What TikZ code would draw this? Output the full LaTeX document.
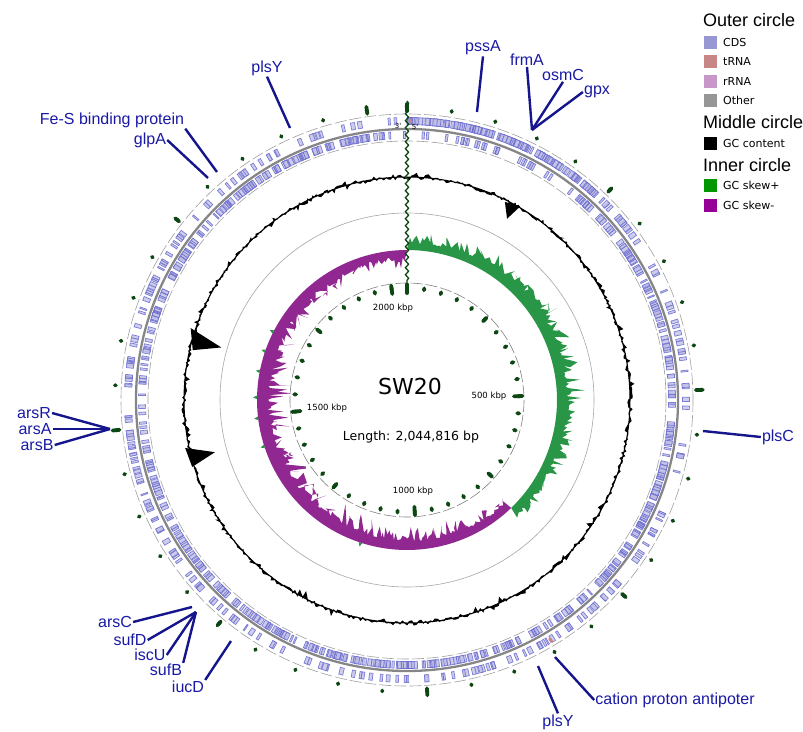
\documentclass[tikz,border=0pt]{standalone}
\usepackage{fontspec}
\setmainfont{Liberation Sans}
\newfontfamily\dejavu{DejaVu Sans}
\usetikzlibrary{decorations.pathmorphing}

\definecolor{cdscol}{RGB}{125,125,200}
\definecolor{trnacol}{RGB}{200,135,135}
\definecolor{rrnacol}{RGB}{200,150,200}
\definecolor{othercol}{RGB}{150,150,150}
\definecolor{skewpos}{RGB}{40,150,70}
\definecolor{skewneg}{RGB}{145,40,145}
\definecolor{legpos}{RGB}{0,150,0}
\definecolor{legneg}{RGB}{150,0,150}
\definecolor{tickgreen}{RGB}{12,70,18}
\definecolor{genecol}{RGB}{25,25,165}

\begin{document}
\begin{tikzpicture}[x=1pt, y=-1pt,
    gene/.style={text=genecol, font=\fontsize{16}{16}\selectfont, inner sep=1pt},
    lead/.style={draw=genecol!85!black, line width=2.4pt},
    ring/.style={draw=gray!75, line width=0.6pt, dash pattern=on 12pt off 3pt},
    cds/.style={draw=cdscol!85!blue, fill=cdscol!45, line width=0.7pt, opacity=0.85},
    tick/.style={draw=tickgreen, line cap=round, line width=3.8pt},
    kbp/.style={font=\dejavu\fontsize{8.5}{9}\selectfont, inner sep=0pt},
    legbox/.style={minimum size=13pt, inner sep=0pt},
    legtext/.style={font=\dejavu\fontsize{11}{11}\selectfont, anchor=west, inner sep=0pt},
    leghead/.style={font=\fontsize{18}{18}\selectfont, anchor=west, inner sep=0pt}
]

\useasboundingbox (0,0) rectangle (803,731);
\pgfmathsetseed{2044}

\begin{scope}[shift={(407,400)}]

% Outer circle: CDS on both strands
\draw[ring] (0,0) circle[radius=286];
\draw[ring] (0,0) circle[radius=259];
\foreach \i in {1,...,260}{
    \pgfmathsetmacro\ang{360*rnd-90}
    \pgfmathsetmacro\len{0.25+0.7*rnd}
    \draw[cds] (\ang:275.5) -- ({\ang+\len}:275.5) -- ({\ang+\len}:282.5) -- (\ang:282.5) -- cycle;
}
\foreach \i in {1,...,120}{
    \pgfmathsetmacro\ang{42*rnd-90}
    \pgfmathsetmacro\len{0.25+0.7*rnd}
    \draw[cds] (\ang:275.5) -- ({\ang+\len}:275.5) -- ({\ang+\len}:282.5) -- (\ang:282.5) -- cycle;
}
\foreach \i in {1,...,560}{
    \pgfmathsetmacro\ang{40+320*rnd-90}
    \pgfmathsetmacro\len{0.25+0.7*rnd}
    \draw[cds] (\ang:261.5) -- ({\ang+\len}:261.5) -- ({\ang+\len}:268.5) -- (\ang:268.5) -- cycle;
}
\foreach \i in {1,...,30}{
    \pgfmathsetmacro\ang{40*rnd-90}
    \draw[cds] (\ang:261.5) -- ({\ang+0.5}:261.5) -- ({\ang+0.5}:268.5) -- (\ang:268.5) -- cycle;
}
\draw[gray!95, line width=2.3pt] (0,0) circle[radius=271];
% tRNA marks
\draw[trnacol, line width=5pt] (58.8:280) -- (59.4:280);
\draw[trnacol, line width=4pt] (-89.6:279) -- (-89:279);

% Outer ticks
\foreach \k in {0,...,40}
    \draw[tick] ({\k*8.8027-90}:291.5) -- ({\k*8.8027-90}:292.5);
\foreach \k in {1,3,5,7}
    \draw[tick] ({\k*44.013-90}:289.5) -- ({\k*44.013-90}:294.5);
\foreach \k in {0,2,4,6,8}
    \draw[tick] ({\k*44.013-90}:289) -- ({\k*44.013-90}:296);

% Middle circle: GC content
\filldraw[black, line width=1pt, even odd rule] (-90:223)
    \foreach \a in {0.6,1.2,...,359.4}{ -- ({\a-90}:{223+2.2*rand+10*rand*rnd*rnd*rnd}) } -- cycle
    (0,0) circle[radius=223];
\fill[black] ({26.3-90}:221) -- ({28.9-90}:207) -- ({30.3-90}:224) -- cycle;
\fill[black] ({283.1-90}:220) -- ({285.8-90}:193) -- ({288.4-90}:228) -- cycle;
\fill[black] ({252.7-90}:225) -- ({254.8-90}:199) -- ({257.8-90}:227) -- cycle;
\draw[gray!70, line width=0.6pt] (0,0) circle[radius=187];

% Inner circle: GC skew
\fill[skewpos] (-90:150)
    \foreach \a in {0.4,1.1,...,136}{ -- ({\a-90}:{150+(0.65+0.35*sin(\a/136*180))*(9+24*rnd*rnd)}) }
    \foreach \a in {136,134,...,0}{ -- ({\a-90}:150) } -- cycle;
\fill[skewneg] (46:150)
    \foreach \a in {136.4,137.1,...,359.6}{ -- ({\a-90}:{150-(0.6+0.4*sin((\a-136)/224*180))*(10+26*rnd*rnd)}) }
    \foreach \a in {360,358,...,136}{ -- ({\a-90}:150) } -- cycle;
\foreach \a in {252,263,271,281,289,297,198}
    \fill[skewpos] ({\a-90.7}:150) -- ({\a-90}:154) -- ({\a-89.3}:150) -- cycle;

% Scale ring
\draw[ring, draw=gray] (0,0) circle[radius=117];
\foreach \k in {0,...,40}
    \draw[tick] ({\k*8.8027-90}:111) -- ({\k*8.8027-90}:113);
\foreach \k in {1,3,5,7}
    \draw[tick] ({\k*44.013-90}:109.5) -- ({\k*44.013-90}:114.5);
\foreach \k in {0,2,4,6,8}
    \draw[tick] ({\k*44.013-90}:107) -- ({\k*44.013-90}:115.5);

% Origin marker
\draw[tickgreen, line width=1.3pt, decorate, decoration={snake, amplitude=1.6pt, segment length=7pt}]
    (-90:299) -- (-90:117);
\end{scope}

\node[font=\dejavu\fontsize{7}{7}\selectfont, inner sep=0pt] (three) at (398,126) {3'};
\node[font=\dejavu\fontsize{7}{7}\selectfont, inner sep=0pt] (five) at (415,127) {5'};

% Scale labels and title
\node[kbp] (k2000) at (393,308) {2000 kbp};
\node[kbp] (k500) at (489,396) {500 kbp};
\node[kbp] (k1000) at (413,491) {1000 kbp};
\node[kbp] (k1500) at (327,408) {1500 kbp};
\node[font=\dejavu\fontsize{22}{22}\selectfont] (name) at (410,386) {SW20};
\node[font=\dejavu\fontsize{12.5}{13}\selectfont] (length) at (411,437) {Length: 2,044,816 bp};

% Gene labels
\node[gene] (g-plsY1) at (267,68) {plsY};
\node[gene] (g-pssA) at (483,48) {pssA};
\node[gene] (g-frmA) at (527,60) {frmA};
\node[gene] (g-osmC) at (563,75) {osmC};
\node[gene] (g-gpx) at (597,92) {gpx};
\node[gene] (g-feS) at (112,120) {Fe-S binding protein};
\node[gene] (g-glpA) at (150,140) {glpA};
\node[gene] (g-arsR) at (34,413) {arsR};
\node[gene] (g-arsA) at (35,429) {arsA};
\node[gene] (g-arsB) at (37,445) {arsB};
\node[gene] (g-plsC) at (778,437) {plsC};
\node[gene] (g-arsC) at (115,622) {arsC};
\node[gene] (g-sufD) at (130,640) {sufD};
\node[gene] (g-iscU) at (150,655) {iscU};
\node[gene] (g-sufB) at (166,670) {sufB};
\node[gene] (g-iucD) at (188,687) {iucD};
\node[gene] (g-plsY2) at (558,722) {plsY};
\node[gene] (g-cat) at (675,700) {cation proton antipoter};

% Leader points on the ring
\coordinate (p-plsY1) at (290,128);
\coordinate (p-pssA) at (477,112);
\coordinate (p-frm) at (532,130);
\coordinate (p-feS) at (217,172);
\coordinate (p-glpA) at (208,178);
\coordinate (p-ars) at (110,429);
\coordinate (p-plsC) at (703,431);
\coordinate (p-arsC) at (192,607);
\coordinate (p-suf) at (196,612);
\coordinate (p-iucD) at (231,641);
\coordinate (p-plsY2) at (538,666);
\coordinate (p-cat) at (555,657);

% Leaders
\draw[lead] (g-plsY1.south) -- (p-plsY1);
\draw[lead] (g-pssA.south) -- (p-pssA);
\draw[lead] (g-frmA.south) -- (p-frm);
\draw[lead] (g-osmC.south) -- (p-frm);
\draw[lead] (g-gpx.west) -- (p-frm);
\draw[lead] (g-feS.south east) -- (p-feS);
\draw[lead] (g-glpA.east) -- (p-glpA);
\draw[lead] (g-arsR.east) -- (p-ars);
\draw[lead] (g-arsA.east) -- (p-ars);
\draw[lead] (g-arsB.east) -- (p-ars);
\draw[lead] (p-plsC) -- (g-plsC.west);
\draw[lead] (g-arsC.east) -- (p-arsC);
\draw[lead] (g-sufD.east) -- (p-suf);
\draw[lead] (g-iscU.east) -- (p-suf);
\draw[lead] (g-sufB.north east) -- (p-suf);
\draw[lead] (g-iucD.north east) -- (p-iucD);
\draw[lead] (p-plsY2) -- (g-plsY2.north);
\draw[lead] (p-cat) -- (g-cat.west);

% Legend
\node[leghead] (lh-outer) at (703,20) {Outer circle};
\node[legbox, fill=cdscol!80] (lb-cds) at (710.5,42) {};
\node[legtext] (lt-cds) at (723,42) {CDS};
\node[legbox, fill=trnacol] (lb-trna) at (710.5,61) {};
\node[legtext] (lt-trna) at (723,61) {tRNA};
\node[legbox, fill=rrnacol] (lb-rrna) at (710.5,81) {};
\node[legtext] (lt-rrna) at (723,81) {rRNA};
\node[legbox, fill=othercol] (lb-other) at (710.5,100) {};
\node[legtext] (lt-other) at (723,100) {Other};
\node[leghead] (lh-middle) at (703,122) {Middle circle};
\node[legbox, fill=black] (lb-gc) at (710.5,143) {};
\node[legtext] (lt-gc) at (723,143) {GC content};
\node[leghead] (lh-inner) at (703,165) {Inner circle};
\node[legbox, fill=legpos] (lb-pos) at (710.5,185) {};
\node[legtext] (lt-pos) at (723,185) {GC skew+};
\node[legbox, fill=legneg] (lb-neg) at (710.5,205) {};
\node[legtext] (lt-neg) at (723,205) {GC skew-};

\end{tikzpicture}
\end{document}
